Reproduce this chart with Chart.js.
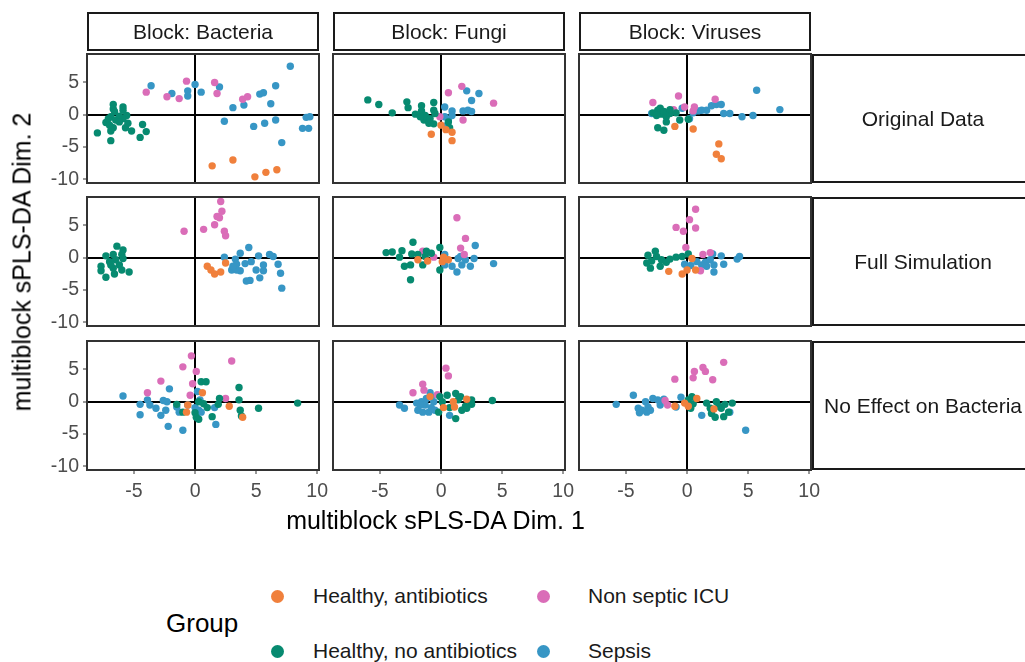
<!DOCTYPE html>
<html>
<head>
<meta charset="utf-8">
<script src="https://cdn.jsdelivr.net/npm/chart.js@4.4.0/dist/chart.umd.min.js"></script>
<style>
  body { margin: 0; background: #fff; width: 1025px; height: 662px; overflow: hidden; position: relative;
         font-family: "Liberation Sans", Arial, sans-serif; }
  .abs { position: absolute; }
  .strip { position: absolute; box-sizing: border-box; border: 2px solid #1a1a1a; display: flex;
           align-items: center; justify-content: center; font-size: 21px; color: #1a1a1a; white-space: nowrap; }
  .title { position: absolute; font-size: 25px; color: #000; white-space: nowrap; }
  .leg { position: absolute; font-size: 21px; color: #1a1a1a; white-space: nowrap; }
  .dot { position: absolute; width: 13px; height: 13px; border-radius: 50%; }
</style>
</head>
<body>
<script>
const groups = ['Healthy, antibiotics', 'Healthy, no antibiotics', 'Non septic ICU', 'Sepsis'];
const colors = ['#F0803C', '#078A70', '#DA6DB8', '#3796C5'];
const blocks = ['Block: Bacteria', 'Block: Fungi', 'Block: Viruses'];
const scenarios = ['Original Data', 'Full Simulation', 'No Effect on Bacteria'];
const xTitle = 'multiblock sPLS-DA Dim. 1';
const yTitle = 'multiblock sPLS-DA Dim. 2';

// Original Data
const bacOrig_abx = [[1.4,-7.9],[3.1,-7.0],[4.9,-9.6],[5.8,-8.9],[6.7,-8.5]];
const bacOrig_noAbx = [[-6.7,1.6],[-6.7,0.9],[-6.6,0.5],[-5.9,1.2],[-5.9,0.7],[-5.6,-0.1],[-6.9,-0.3],[-6.5,-0.8],[-7.3,-1.2],[-6.7,-2.0],[-6.9,-2.5],[-8.0,-2.8],[-6.9,-4.0],[-5.7,-2.0],[-5.5,-1.3],[-5.2,-2.5],[-5.9,-0.6],[-6.2,-0.2],[-4.3,-1.5],[-4.0,-2.6],[-4.5,-3.5],[-7.1,-0.6],[-6.2,-1.1],[-7.0,-1.6]];
const bacOrig_icu = [[-4.0,3.5],[-2.3,2.8],[-1.3,2.5],[-0.7,5.2],[1.6,5.0],[1.8,3.3],[3.9,2.4],[4.3,2.8]];
const bacOrig_sep = [[-3.6,4.5],[-1.9,3.3],[-0.6,3.7],[-0.6,2.9],[0.0,4.7],[0.5,3.5],[2.0,4.3],[3.1,1.1],[4.0,1.5],[2.4,-1.0],[4.8,-1.8],[5.7,-1.3],[5.3,3.2],[5.6,3.4],[6.2,1.7],[6.6,4.5],[6.6,-0.8],[7.1,-4.3],[7.8,7.5],[8.8,-2.1],[9.3,-2.1],[9.1,-0.4],[9.4,-0.3]];

const funOrig_abx = [[-0.8,-3.0],[0.0,-1.6],[0.4,-2.3],[0.9,-2.7],[0.9,-4.0]];
const funOrig_noAbx = [[-6.0,2.3],[-5.1,1.6],[-4.0,0.3],[-2.8,2.0],[-2.7,1.1],[-2.1,0.1],[-1.6,1.4],[-1.6,0.6],[-1.4,-0.8],[-1.0,-1.3],[-0.6,1.9],[-0.6,0.7],[-0.6,-1.4],[-0.5,0.2],[-1.3,-0.1],[-0.9,-0.6],[0.6,-1.1],[0.7,-2.0],[-1.7,-0.3]];
const funOrig_icu = [[0.6,3.4],[1.7,4.4],[4.3,1.8],[1.8,-0.8],[-0.1,-0.3]];
const funOrig_sep = [[2.1,3.7],[3.1,3.3],[2.5,2.2],[0.3,1.2],[0.9,0.6],[1.8,0.6],[2.2,0.7],[2.5,0.5],[0.3,-0.3],[0.6,-0.8],[0.5,-1.6],[0.9,-0.1]];

const virOrig_abx = [[-1.0,-1.8],[0.5,-2.2],[2.6,-4.5],[2.4,-6.1],[2.8,-6.8]];
const virOrig_noAbx = [[-2.8,0.3],[-2.4,0.7],[-2.2,1.0],[-2.1,0.1],[-1.9,0.5],[-1.7,-0.3],[-1.7,-1.1],[-2.4,-2.0],[-1.9,-2.4],[-1.4,0.2],[-0.9,0.3],[-0.6,-0.8],[-1.4,0.8],[-2.5,-0.1],[0.1,-0.7]];
const virOrig_icu = [[-2.8,1.9],[-0.7,2.9],[-0.2,1.2],[0.6,1.2],[0.5,0.6],[2.3,2.4],[-1.1,0.8]];
const virOrig_sep = [[-2.9,0.2],[-1.9,0.3],[-0.4,1.0],[0.2,-0.6],[1.2,0.7],[1.6,0.7],[2.0,1.4],[2.4,1.6],[2.8,1.6],[3.0,0.2],[3.5,0.2],[4.5,-0.3],[5.4,-0.1],[7.6,0.8],[5.7,3.8],[0.5,0.3],[0.9,0.6]];

// Full Simulation
const bacFull_abx = [[1.0,-1.3],[1.3,-1.9],[1.6,-2.5],[2.1,-2.2],[2.5,-0.8]];
const bacFull_noAbx = [[-6.4,1.8],[-5.9,1.2],[-7.3,0.3],[-6.7,0.5],[-6.0,0.5],[-6.5,-0.3],[-7.0,-0.6],[-6.2,-1.1],[-7.7,-1.3],[-6.7,-1.6],[-6.0,-1.9],[-7.7,-2.0],[-7.3,-3.0],[-6.6,-2.5],[-5.4,-2.2],[-6.9,-1.1],[-5.9,-0.1]];
const bacFull_icu = [[2.1,8.7],[2.2,7.2],[1.8,6.4],[2.0,6.2],[0.7,4.4],[1.6,5.1],[-0.9,4.1],[2.4,4.1],[2.5,3.4]];
const bacFull_sep = [[2.4,0.1],[3.0,-1.9],[3.3,-0.2],[3.4,-1.0],[3.7,0.7],[3.7,-2.0],[4.1,-0.9],[4.4,1.6],[4.6,-0.6],[5.0,-1.9],[5.2,0.3],[5.3,-3.1],[5.6,-1.1],[5.6,-2.0],[6.1,0.5],[6.4,0.2],[6.8,-1.0],[7.0,-2.4],[7.1,-4.7],[4.2,-3.6],[4.5,-3.5],[3.4,-1.9],[3.1,-1.3]];

const funFull_abx = [[-1.9,-0.3],[-1.1,-0.5],[0.1,-0.6],[0.6,-0.3],[0.2,0.1]];
const funFull_noAbx = [[-4.5,0.8],[-4.0,0.9],[-3.4,0.1],[-3.2,1.1],[-2.3,2.4],[-2.4,0.6],[-1.9,0.5],[-3.0,-1.3],[-2.5,-1.1],[-1.5,-1.1],[-2.5,-3.4],[-0.1,1.6],[-0.1,-1.9],[-1.2,1.0],[-0.8,0.7],[-1.3,0.2]];
const funFull_icu = [[1.3,6.2],[2.0,3.0],[1.6,1.5],[1.9,0.5],[-0.6,0.1],[-1.5,1.0]];
const funFull_sep = [[0.3,0.5],[0.9,-1.3],[1.3,-2.2],[1.4,-0.1],[1.7,-1.1],[2.0,-0.3],[2.4,-1.3],[2.7,-0.1],[2.8,1.9],[4.3,-0.9],[0.3,-1.1],[1.6,0.2]];

const virFull_abx = [[-1.5,-2.1],[-0.4,-2.5],[0.0,-1.9],[0.7,-1.9],[0.4,-0.1]];
const virFull_noAbx = [[-3.2,0.4],[-2.9,-0.5],[-3.0,-1.6],[-2.6,1.0],[-2.5,0.2],[-2.1,-0.3],[-2.2,-1.3],[-1.7,-0.7],[-1.4,-0.2],[-0.9,0.1],[-0.4,0.2],[0.1,0.6],[-3.3,-0.8]];
const virFull_icu = [[0.7,7.5],[0.2,5.9],[-0.9,4.7],[-0.3,4.1],[0.7,4.6],[-0.1,1.6],[1.3,0.5],[1.9,0.8],[1.1,-2.0]];
const virFull_sep = [[-0.2,-1.0],[0.3,-1.2],[1.2,-1.1],[1.5,-0.7],[1.6,-1.3],[1.9,-0.3],[2.1,0.6],[2.2,-1.1],[2.2,-2.2],[2.8,0.3],[3.0,-1.0],[4.1,-0.2],[4.3,0.2],[0.8,-0.6]];

// No Effect on Bacteria
const bacNoEff_abx = [[-0.6,-0.5],[-0.7,-1.6],[0.6,1.4],[2.8,-0.7],[3.9,-2.4]];
const bacNoEff_noAbx = [[-1.5,-0.4],[-1.0,-1.6],[0.0,-1.7],[0.1,-2.4],[0.3,-2.7],[0.5,3.1],[0.9,3.1],[0.7,-0.3],[1.0,-0.9],[1.4,-2.3],[1.9,-0.4],[2.0,0.5],[3.6,2.2],[3.6,0.3],[3.7,-1.3],[3.8,-2.2],[5.2,-1.0],[8.4,-0.2],[0.3,0.0]];
const bacNoEff_icu = [[-3.9,1.4],[-2.8,3.2],[-1.0,5.4],[-0.3,7.1],[0.1,4.7],[-0.2,2.8],[-0.4,1.0],[2.5,0.5],[3.0,6.3]];
const bacNoEff_sep = [[-5.9,0.9],[-4.5,-0.4],[-4.5,-2.0],[-3.9,0.3],[-3.7,-0.5],[-3.2,-1.0],[-2.8,-2.1],[-2.6,0.2],[-2.4,-1.3],[-2.3,0.0],[-2.2,-3.8],[-2.1,2.0],[-1.5,-0.8],[-1.3,-1.6],[-1.0,-4.4],[0.2,1.6],[0.3,-1.3],[0.5,-1.6],[0.0,-0.9],[1.6,-0.9],[1.7,-3.5],[-0.6,-0.5],[0.4,0.3]];

const funNoEff_abx = [[-0.9,0.8],[0.2,-0.9],[1.0,0.0],[1.1,-0.8],[2.1,0.4]];
const funNoEff_noAbx = [[-0.1,0.8],[0.5,1.0],[1.2,1.3],[0.1,0.0],[0.7,-0.9],[1.2,-2.6],[1.4,0.3],[1.7,-1.3],[2.0,-0.7],[2.5,-0.4],[2.5,0.3],[4.2,0.2],[-0.2,-1.6],[1.6,0.8],[2.1,-1.0]];
const funNoEff_icu = [[0.4,5.2],[0.6,4.0],[-1.5,2.7],[-1.4,1.8],[-2.3,1.4],[-0.3,1.1]];
const funNoEff_sep = [[-3.4,-0.5],[-3.0,-1.0],[-2.0,-0.2],[-1.9,-1.3],[-1.6,0.0],[-1.5,-1.6],[-1.3,-0.5],[-1.2,0.5],[-1.0,-1.6],[-0.8,-0.9],[-0.6,0.0],[-0.5,-1.3],[-0.9,1.4],[0.7,-2.1],[-1.7,-0.5],[-0.8,0.8]];

const virNoEff_abx = [[-1.0,-0.7],[-0.2,-0.2],[0.1,-0.7],[0.8,0.5],[2.2,-1.1]];
const virNoEff_noAbx = [[0.1,0.3],[0.4,0.8],[0.3,-1.0],[0.5,-0.3],[1.6,-0.2],[1.9,-1.0],[2.0,-1.8],[2.3,-2.4],[2.6,-0.7],[2.8,-1.0],[3.0,-2.3],[3.1,-0.4],[3.7,-0.2],[3.4,-1.6],[2.4,0.0]];
const virNoEff_icu = [[-1.8,0.2],[-1.6,-0.5],[-1.0,3.5],[0.5,3.7],[0.6,4.7],[1.3,5.3],[1.5,4.7],[2.1,3.4],[3.0,6.1]];
const virNoEff_sep = [[-5.8,-0.4],[-4.4,1.0],[-4.0,-1.0],[-3.7,-1.3],[-3.4,0.0],[-3.3,-1.6],[-3.0,-1.3],[-2.8,0.5],[-2.4,0.3],[-2.2,-0.5],[-1.9,0.4],[-0.9,-0.8],[-0.5,0.7],[0.2,-0.5],[1.2,-2.1],[3.5,-1.6],[4.8,-4.4],[-3.9,-1.7],[-3.2,-0.8]];

// rows = scenarios, cols = blocks
const panels = [
    [[bacOrig_abx, bacOrig_noAbx, bacOrig_icu, bacOrig_sep],
     [funOrig_abx, funOrig_noAbx, funOrig_icu, funOrig_sep],
     [virOrig_abx, virOrig_noAbx, virOrig_icu, virOrig_sep]],
    [[bacFull_abx, bacFull_noAbx, bacFull_icu, bacFull_sep],
     [funFull_abx, funFull_noAbx, funFull_icu, funFull_sep],
     [virFull_abx, virFull_noAbx, virFull_icu, virFull_sep]],
    [[bacNoEff_abx, bacNoEff_noAbx, bacNoEff_icu, bacNoEff_sep],
     [funNoEff_abx, funNoEff_noAbx, funNoEff_icu, funNoEff_sep],
     [virNoEff_abx, virNoEff_noAbx, virNoEff_icu, virNoEff_sep]]
];

const xMin = -8.85, xMax = 10.15, yMin = -10.55, yMax = 9.4;
const colLeft = [87, 333, 579], rowTop = [54, 197, 341];
const PW = 232, PH = 129, M = 14;

const panelBorder = {
    id: 'panelBorder',
    afterDraw(chart) {
        const { ctx, chartArea: a } = chart;
        ctx.save();
        ctx.strokeStyle = '#333333';
        ctx.lineWidth = 2;
        ctx.strokeRect(a.left, a.top, a.right - a.left, a.bottom - a.top);
        ctx.restore();
    }
};

function zeroColor(ctx) {
    return ctx.tick && ctx.tick.value === 0 ? '#000000' : 'rgba(0,0,0,0)';
}

function makePanel(r, c) {
    const yW = c === 0 ? 45 : 0;
    const xH = r === 2 ? 32 : 0;
    const w = PW + 2 * M + yW, h = PH + 2 * M + xH;
    const div = document.createElement('div');
    div.className = 'abs';
    div.style.left = (colLeft[c] - M - yW) + 'px';
    div.style.top = (rowTop[r] - M) + 'px';
    const cv = document.createElement('canvas');
    cv.width = w; cv.height = h;
    div.appendChild(cv);
    document.body.appendChild(div);

    new Chart(cv, {
        type: 'scatter',
        data: {
            datasets: panels[r][c].map((pts, g) => ({
                label: groups[g],
                data: pts.map(p => ({ x: p[0], y: p[1] })),
                backgroundColor: colors[g],
                borderWidth: 0,
                pointRadius: 3.7,
                pointHoverRadius: 3.7
            }))
        },
        options: {
            responsive: false,
            animation: false,
            devicePixelRatio: 1,
            layout: { padding: M },
            plugins: { legend: { display: false }, tooltip: { enabled: false } },
            scales: {
                x: {
                    type: 'linear', min: xMin, max: xMax,
                    afterFit: s => { s.height = xH; s.paddingLeft = 0; s.paddingRight = 0; },
                    border: { display: false },
                    grid: { color: zeroColor, lineWidth: 2, drawTicks: r === 2, tickColor: '#333', tickWidth: 1, tickLength: 4 },
                    ticks: { display: r === 2, stepSize: 5, includeBounds: false, padding: 6, maxRotation: 0,
                             color: '#4d4d4d', font: { family: 'Liberation Sans', size: 19.5 } }
                },
                y: {
                    type: 'linear', min: yMin, max: yMax,
                    afterFit: s => { s.width = yW; s.paddingTop = 0; s.paddingBottom = 0; },
                    border: { display: false },
                    grid: { color: zeroColor, lineWidth: 2, drawTicks: c === 0, tickColor: '#333', tickWidth: 1, tickLength: 4 },
                    ticks: { display: c === 0, stepSize: 5, includeBounds: false, padding: 4,
                             color: '#4d4d4d', font: { family: 'Liberation Sans', size: 19.5 } }
                }
            }
        },
        plugins: [panelBorder]
    });
}

for (let r = 0; r < 3; r++) for (let c = 0; c < 3; c++) makePanel(r, c);

// strips
blocks.forEach((b, c) => {
    const d = document.createElement('div');
    d.className = 'strip';
    d.style.left = colLeft[c] + 'px'; d.style.top = '12px';
    d.style.width = PW + 'px'; d.style.height = '39px';
    d.textContent = b;
    document.body.appendChild(d);
});
scenarios.forEach((s, r) => {
    const d = document.createElement('div');
    d.className = 'strip';
    d.style.left = '812px'; d.style.top = rowTop[r] + 'px';
    d.style.width = '222px'; d.style.height = PH + 'px';
    d.textContent = s;
    document.body.appendChild(d);
});

// axis titles
const xt = document.createElement('div');
xt.className = 'title'; xt.textContent = xTitle;
xt.style.left = '0px'; xt.style.width = '871px'; xt.style.textAlign = 'center';
xt.style.top = '520px'; xt.style.transform = 'translateY(-50%)';
document.body.appendChild(xt);
const yt = document.createElement('div');
yt.className = 'title'; yt.textContent = yTitle;
yt.style.left = '22px'; yt.style.top = '262px'; yt.style.transform = 'translate(-50%,-50%) rotate(-90deg)';
document.body.appendChild(yt);

// legend
const lt = document.createElement('div');
lt.className = 'title'; lt.textContent = 'Group';
lt.style.left = '166px'; lt.style.top = '623px'; lt.style.fontSize = '26px'; lt.style.transform = 'translateY(-50%)';
document.body.appendChild(lt);
const legPos = [[277, 596, 313], [277, 651, 313], [543, 596, 588], [543, 651, 588]];
groups.forEach((g, i) => {
    const [dx, dy, tx] = legPos[i];
    const dot = document.createElement('div');
    dot.className = 'dot';
    dot.style.left = (dx - 6.5) + 'px'; dot.style.top = (dy - 6.5) + 'px';
    dot.style.background = colors[i];
    document.body.appendChild(dot);
    const t = document.createElement('div');
    t.className = 'leg'; t.textContent = g;
    t.style.left = tx + 'px'; t.style.top = dy + 'px'; t.style.transform = 'translateY(-50%)';
    document.body.appendChild(t);
});
</script>
</body>
</html>
